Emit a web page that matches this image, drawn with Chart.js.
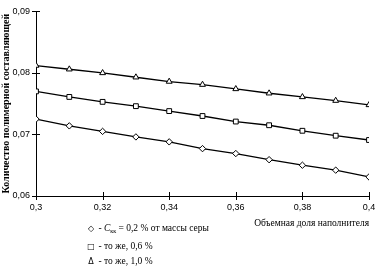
<!DOCTYPE html>
<html><head><meta charset="utf-8">
<script src="https://cdn.jsdelivr.net/npm/chart.js@4/dist/chart.umd.min.js"></script>
<style>
html,body{margin:0;padding:0;background:#fff;}
#wrap{position:relative;width:382px;height:270px;}
#legend{position:absolute;left:86px;top:221px;font-family:"Liberation Serif",serif;font-size:9.5px;color:#000;line-height:14.5px;}
#legend .m{display:inline-block;width:10px;text-align:center;font-family:"DejaVu Sans",sans-serif;font-size:8px;}
sub{font-size:6px;vertical-align:-2px;}
</style></head><body>
<div id="wrap"><canvas id="c" width="382" height="270"></canvas>
<div id="legend">
<div><span class="m">◇</span> - <i>C</i><sub>кк</sub> = 0,2 % от массы серы</div>
<div><span class="m">□</span> - то же, 0,6 %</div>
<div><span class="m">Δ</span> - то же, 1,0 %</div>
</div></div>
<script>
const xValues = [0.30,0.31,0.32,0.33,0.34,0.35,0.36,0.37,0.38,0.39,0.40];
const diamondSeries = [0.0725,0.0714,0.0705,0.0696,0.0688,0.0677,0.0669,0.0659,0.0650,0.0642,0.0631];
const squareSeries = [0.0770,0.0761,0.0753,0.0746,0.0738,0.0730,0.0721,0.0715,0.0706,0.0698,0.0691];
const triangleSeries = [0.0812,0.0806,0.0800,0.0793,0.0786,0.0781,0.0774,0.0767,0.0761,0.0755,0.0748];
const xTicks = [0.30,0.32,0.34,0.36,0.38,0.40];
const yTicks = [0.06,0.07,0.08,0.09];
const yTitle = "Количество полимерной составляющей";
const xTitle = "Объемная доля наполнителя";

function fmt(v){ return String(Math.round(v*100)/100).replace('.', ','); }
function ds(data, style){
  return {data: xValues.map((x,i)=>({x, y:data[i]})), borderColor:'#000', borderWidth:1.3,
    pointStyle:style, pointRadius: style==='rectRot'?3.2:3.4, pointBackgroundColor:'#fff', pointBorderColor:'#000', pointBorderWidth:1, tension:0};
}
const crossTicks = {id:'crossTicks', afterDraw(chart){
  const ctx=chart.ctx, xs=chart.scales.x, ys=chart.scales.y;
  ctx.save(); ctx.strokeStyle='#000'; ctx.lineWidth=1;
  ctx.beginPath();
  yTicks.forEach(v=>{const y=Math.round(ys.getPixelForValue(v))+0.5; ctx.moveTo(xs.left-4,y); ctx.lineTo(xs.left+4,y);});
  xTicks.forEach(v=>{const x=Math.round(xs.getPixelForValue(v))+0.5; ctx.moveTo(x,ys.bottom-4); ctx.lineTo(x,ys.bottom+4);});
  ctx.stroke(); ctx.restore();
}};
new Chart(document.getElementById('c'), {
  type:'line',
  data:{datasets:[ds(diamondSeries,'rectRot'), ds(squareSeries,'rect'), ds(triangleSeries,'triangle')]},
  options:{
    responsive:false, animation:false, devicePixelRatio:1,
    layout:{padding:{top:10,right:13,bottom:38,left:0}},
    plugins:{legend:{display:false}, tooltip:{enabled:false}},
    scales:{
      x:{type:'linear', min:0.3, max:0.4,
        afterBuildTicks(s){ s.ticks = xTicks.map(v=>({value:v})); },
        afterFit(s){ s.height = 36; },
        grid:{display:true, drawOnChartArea:false, drawTicks:false, color:'#000'},
        border:{display:true,color:'#000',width:1},
        ticks:{callback:fmt, color:'#000', padding:6, maxRotation:0, font:{family:'"Liberation Sans", sans-serif', size:9}},
        title:{display:true, text:xTitle, align:'end', color:'#000', padding:{top:0,bottom:3}, font:{family:'"Liberation Serif", serif', size:9.5}}
      },
      y:{type:'linear', min:0.06, max:0.09,
        afterBuildTicks(s){ s.ticks = yTicks.map(v=>({value:v})); },
        afterFit(s){ s.width = 36; },
        grid:{display:true, drawOnChartArea:false, drawTicks:false, color:'#000'},
        border:{display:true,color:'#000',width:1},
        ticks:{callback:fmt, color:'#000', padding:6, font:{family:'"Liberation Sans", sans-serif', size:9}},
        title:{display:true, text:yTitle, color:'#000', padding:{top:0,bottom:0}, font:{family:'"Liberation Serif", serif', size:10, weight:'bold'}}
      }
    }
  },
  plugins:[crossTicks]
});
</script></body></html>
